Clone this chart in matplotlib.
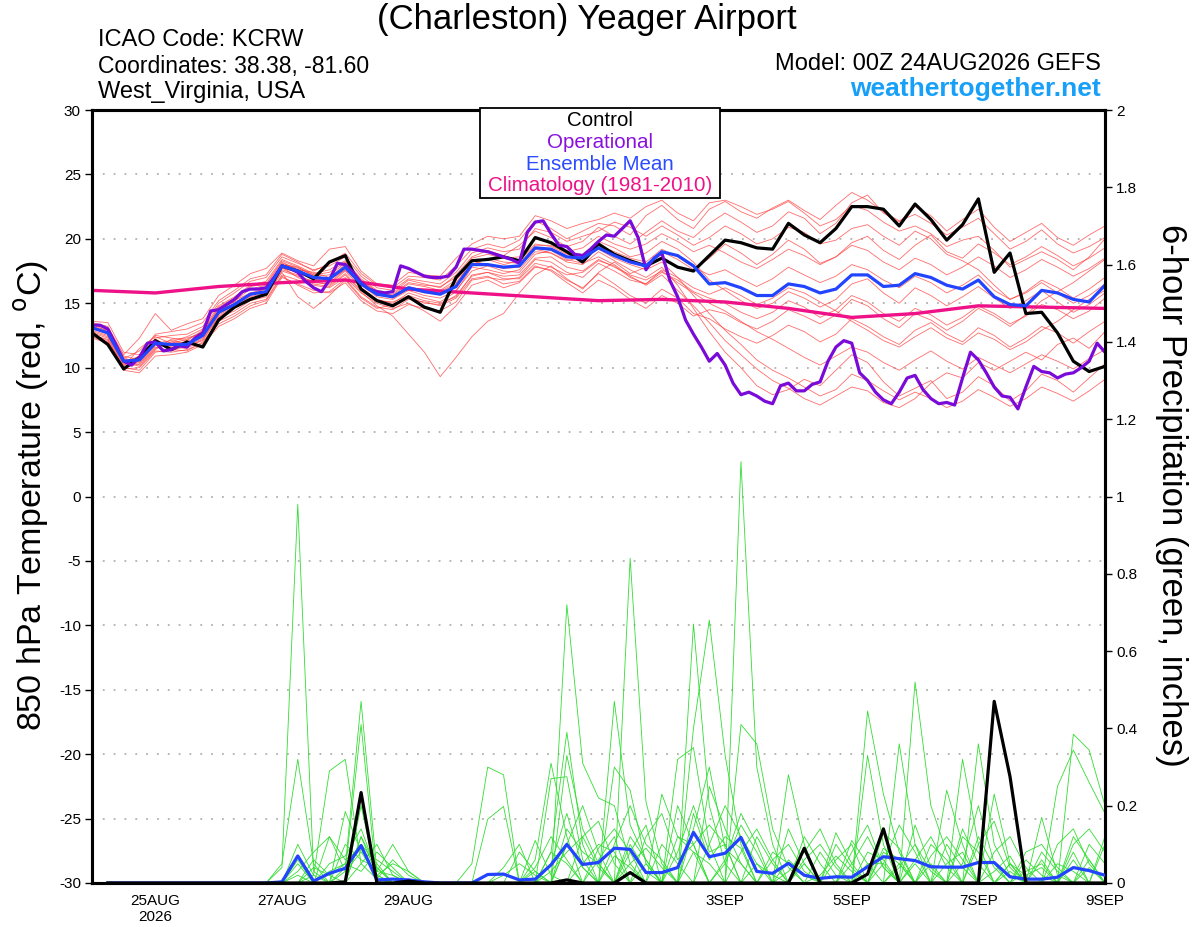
import numpy as np
import matplotlib
matplotlib.use('Agg')
import matplotlib.pyplot as plt
from matplotlib.patches import Rectangle

plt.rcParams['font.family'] = ['Liberation Sans', 'DejaVu Sans']
plt.rcParams['axes.unicode_minus'] = False

# ---- time axes (hours from 00Z 24AUG2026) ----
hours6 = list(range(0, 385, 6))
hours3 = list(range(0, 385, 3))
hours_day = list(range(0, 385, 24))
hours_pcp = list(range(6, 385, 6))

tick_hours = [24, 72, 120, 192, 240, 288, 336, 384]
tick_labels = ['25AUG\n2026', '27AUG', '29AUG', '1SEP', '3SEP', '5SEP', '7SEP', '9SEP']

# ---- 850 hPa temperature (C) ----
control_t = [12.7, 11.8, 9.9, 10.8, 12.1, 11.4, 12.0, 11.6, 13.7, 14.7, 15.3, 15.7, 17.9,
             17.5, 16.9, 18.2, 18.7, 16.1, 15.2, 14.8, 15.5, 14.7, 14.3, 17.0, 18.3, 18.4,
             18.6, 18.3, 20.1, 19.7, 19.0, 18.2, 19.6, 18.8, 18.3, 17.9, 18.5, 17.8, 17.5,
             18.7, 19.9, 19.7, 19.3, 19.2, 21.2, 20.3, 19.7, 20.8, 22.5, 22.5, 22.3, 21.0,
             22.7, 21.5, 19.9, 21.1, 23.1, 17.4, 18.9, 14.2, 14.3, 12.7, 10.5, 9.7, 10.1]

mean_t = [13.1, 12.7, 10.5, 10.6, 11.9, 11.8, 11.8, 12.5, 14.3, 14.9, 15.7, 15.9, 17.9,
          17.5, 17.0, 16.9, 17.8, 16.5, 15.7, 15.5, 16.2, 15.9, 15.7, 16.3, 18.0, 18.0,
          17.8, 17.9, 19.3, 19.2, 18.6, 18.5, 19.3, 18.7, 18.2, 17.9, 19.0, 18.7, 17.9,
          16.5, 16.6, 16.2, 15.6, 15.6, 16.5, 16.3, 15.8, 16.1, 17.2, 17.2, 16.3, 16.4,
          17.3, 17.0, 16.4, 16.1, 16.8, 15.5, 14.9, 14.8, 16.0, 15.8, 15.3, 15.1, 16.4]

oper_t = [13.3, 13.3, 13.0, 11.8, 10.5, 10.2, 10.8, 11.9, 12.0, 11.3, 11.4, 11.7, 11.6,
          12.3, 12.7, 14.4, 14.5, 14.9, 15.3, 15.9, 16.1, 16.1, 16.2, 17.0, 17.9, 17.7,
          17.4, 16.7, 16.2, 15.9, 16.8, 18.1, 18.0, 17.4, 16.6, 16.1, 15.9, 15.8, 15.9,
          17.9, 17.7, 17.4, 17.1, 17.0, 17.0, 17.1, 17.8, 19.2, 19.2, 19.1, 19.0, 18.8,
          18.6, 18.4, 18.1, 20.5, 21.3, 21.4, 20.4, 19.5, 19.4, 18.8, 18.7, 19.2, 19.8,
          20.3, 20.2, 20.8, 21.4, 20.1, 17.6, 18.5, 18.9, 16.8, 15.5, 13.7, 12.6, 11.6,
          10.5, 11.1, 10.2, 8.8, 7.9, 8.1, 7.8, 7.4, 7.2, 8.6, 8.8, 8.2, 8.2, 8.7, 8.9,
          10.5, 11.6, 12.1, 11.9, 9.6, 9.0, 8.1, 7.5, 7.2, 8.1, 9.2, 9.4, 8.3, 7.6, 7.2,
          7.3, 7.1, 9.2, 11.2, 10.6, 9.6, 8.5, 7.8, 7.7, 6.8, 8.5, 10.1, 9.7, 9.6, 9.2,
          9.5, 9.6, 10.0, 10.5, 11.9, 11.2]

climo_t = [16.0, 15.8, 16.3, 16.6, 16.8, 16.1, 15.8, 15.5, 15.2, 15.3, 15.1, 14.6, 13.9,
           14.2, 14.8, 14.7, 14.6]

members_t = [
    [13.4, 13.0, 10.8, 10.2, 11.5, 12.0, 12.4, 13.0, 14.8, 15.5, 16.4, 16.7, 18.4, 17.9, 17.3, 17.6, 18.3, 16.9, 16.0, 15.8, 16.8, 16.5, 16.2, 17.2, 18.6, 19.1, 18.7, 19.5, 20.6, 20.1, 19.4, 19.8, 20.9, 20.2, 19.6, 20.5, 21.4, 20.6, 20.1, 21.2, 22.0, 21.3, 20.5, 21.0, 22.1, 21.6, 20.4, 21.2, 22.8, 23.4, 22.0, 21.3, 22.5, 21.8, 20.6, 21.5, 22.3, 20.9, 19.8, 20.5, 21.2, 20.1, 19.5, 20.3, 21.0],
    [12.9, 12.5, 10.2, 10.8, 12.2, 11.6, 11.5, 12.2, 14.0, 14.6, 15.4, 15.6, 17.6, 17.2, 16.6, 16.5, 17.5, 16.2, 15.3, 15.0, 15.8, 15.4, 15.1, 15.9, 17.8, 17.6, 17.3, 17.6, 19.0, 18.9, 18.2, 18.0, 19.0, 18.3, 17.6, 17.0, 17.8, 16.4, 14.6, 12.8, 11.2, 10.0, 8.6, 7.9, 8.3, 9.1, 8.6, 9.8, 11.0, 10.4, 8.9, 7.8, 8.4, 9.0, 7.6, 8.1, 9.3, 8.6, 7.4, 8.2, 9.5, 9.0, 8.1, 9.2, 10.3],
    [13.0, 12.8, 10.6, 10.4, 11.7, 11.9, 12.0, 12.6, 14.5, 15.2, 15.8, 16.1, 18.1, 17.7, 17.2, 16.8, 17.6, 16.4, 15.5, 15.3, 16.0, 15.6, 15.4, 16.0, 17.5, 17.9, 17.5, 17.4, 18.8, 19.1, 18.4, 18.1, 18.6, 18.0, 17.1, 16.4, 17.2, 16.0, 14.8, 13.5, 12.1, 11.0, 9.9, 9.0, 8.4, 7.6, 7.1, 7.8, 8.5, 8.2, 7.3, 6.9, 7.6, 8.8, 9.6, 9.2, 10.4, 9.8, 10.5, 11.2, 10.6, 11.8, 12.3, 11.5, 12.8],
    [12.5, 12.2, 10.0, 9.8, 11.2, 11.4, 11.3, 12.0, 13.6, 14.2, 15.0, 15.3, 17.2, 16.8, 16.4, 16.2, 17.0, 15.8, 15.0, 14.6, 15.0, 14.4, 13.6, 14.8, 16.4, 16.8, 16.2, 16.6, 17.8, 17.6, 16.8, 16.2, 17.3, 16.5, 15.6, 15.0, 16.1, 15.4, 14.2, 13.8, 13.0, 12.4, 11.9, 12.5, 13.3, 12.8, 12.0, 12.6, 13.8, 13.2, 12.4, 11.8, 12.9, 13.5, 12.6, 12.0, 13.1, 12.5, 11.6, 12.3, 13.2, 12.7, 11.9, 12.8, 13.6],
    [13.2, 12.9, 10.7, 11.3, 12.5, 12.3, 12.1, 12.9, 14.6, 15.1, 15.6, 16.0, 17.8, 17.0, 16.5, 16.3, 17.2, 15.9, 14.8, 14.0, 12.6, 11.2, 9.3, 10.8, 12.4, 13.6, 14.2, 15.8, 17.2, 17.9, 16.9, 16.1, 17.4, 18.2, 17.3, 17.8, 19.0, 18.4, 17.6, 18.5, 19.6, 18.9, 18.0, 18.8, 19.9, 19.2, 18.1, 18.6, 19.7, 20.2, 19.1, 18.4, 19.5, 20.3, 19.0, 18.5, 19.6, 18.9, 18.0, 18.6, 19.4, 18.7, 17.9, 18.5, 19.3],
    [13.6, 13.5, 11.2, 11.0, 12.6, 12.8, 13.0, 13.5, 15.2, 16.0, 16.9, 17.2, 18.8, 18.2, 17.5, 18.1, 18.9, 17.3, 16.4, 16.2, 17.1, 17.0, 16.8, 17.9, 19.2, 19.6, 19.3, 19.9, 21.4, 20.8, 20.0, 20.6, 21.2, 21.0, 20.3, 21.8, 22.6, 21.5, 20.8, 22.3, 22.9, 22.1, 21.6, 22.4, 23.0, 22.2, 21.5, 22.6, 23.6, 23.0, 22.1, 21.4, 21.9, 21.2, 20.3, 20.9, 21.6, 20.4, 19.2, 19.8, 20.7, 19.6, 18.9, 19.4, 20.1],
    [12.8, 12.4, 10.3, 10.5, 11.8, 11.7, 11.6, 12.3, 14.1, 14.7, 15.5, 15.8, 17.7, 17.4, 16.9, 16.6, 17.6, 16.5, 15.8, 15.6, 16.5, 16.3, 16.0, 16.8, 18.2, 18.4, 18.0, 18.3, 19.6, 19.4, 18.8, 18.7, 19.5, 19.0, 18.5, 18.2, 19.2, 18.6, 17.8, 17.2, 17.6, 16.9, 16.3, 16.9, 17.8, 17.2, 16.6, 17.1, 18.0, 17.6, 16.8, 16.2, 17.1, 16.6, 15.8, 16.4, 17.2, 16.0, 15.3, 15.9, 16.8, 16.2, 15.4, 16.1, 17.0],
    [13.1, 12.6, 10.4, 10.9, 12.0, 11.5, 11.9, 12.4, 14.2, 14.8, 15.6, 16.2, 18.0, 17.8, 17.1, 17.2, 18.1, 16.7, 15.9, 15.4, 16.1, 15.8, 15.8, 16.5, 18.3, 18.0, 17.7, 17.8, 19.2, 18.9, 18.3, 18.6, 19.8, 19.3, 18.6, 18.9, 19.8, 19.2, 18.2, 16.8, 16.0, 15.2, 14.6, 15.0, 15.9, 15.4, 14.7, 15.3, 16.5, 16.9, 15.8, 15.0, 16.2, 15.6, 14.8, 15.5, 16.3, 15.4, 14.6, 15.2, 16.0, 15.1, 14.3, 14.9, 15.8],
    [12.3, 11.9, 9.8, 9.6, 10.9, 11.0, 11.2, 11.8, 13.2, 13.8, 14.6, 15.0, 17.0, 16.5, 16.0, 15.8, 16.6, 15.2, 14.4, 14.2, 14.9, 14.6, 14.4, 15.1, 16.8, 17.0, 16.8, 17.0, 18.4, 18.2, 17.4, 17.0, 18.1, 17.5, 16.8, 16.5, 17.6, 17.0, 16.2, 15.7, 16.2, 15.6, 14.9, 15.4, 16.2, 15.8, 15.1, 14.4, 13.6, 12.9, 12.1, 11.6, 12.4, 13.1, 12.3, 11.8, 12.7, 12.2, 11.4, 12.0, 12.9, 13.6, 14.5, 15.3, 16.0],
    [13.3, 13.1, 10.9, 10.6, 12.3, 12.5, 12.6, 13.2, 15.0, 15.8, 16.7, 17.0, 18.6, 18.1, 17.6, 17.9, 18.6, 17.1, 16.2, 16.0, 16.9, 16.7, 16.5, 17.4, 18.9, 19.3, 19.0, 19.2, 20.8, 20.5, 19.8, 20.2, 20.6, 21.3, 20.9, 20.2, 21.0, 20.3, 19.5, 20.1, 21.0, 20.4, 19.6, 20.0, 20.9, 20.5, 19.6, 19.9, 20.8, 21.1, 20.2, 19.5, 20.6, 20.0, 18.8, 18.3, 17.6, 16.4, 15.3, 15.8, 16.6, 15.8, 15.0, 15.6, 16.5],
    [12.7, 12.3, 10.1, 11.5, 12.4, 11.9, 12.2, 12.8, 14.4, 15.0, 15.8, 15.7, 17.5, 17.1, 16.7, 16.4, 17.3, 16.0, 15.2, 15.1, 15.6, 15.2, 15.0, 15.5, 17.2, 17.4, 17.1, 17.2, 18.5, 18.6, 17.8, 17.5, 18.4, 17.8, 17.2, 16.8, 17.5, 16.6, 15.8, 15.0, 14.4, 13.6, 12.8, 12.2, 11.5, 10.8, 10.2, 10.9, 11.6, 11.2, 10.4, 9.8, 10.6, 11.3, 10.5, 9.9, 10.8, 10.2, 9.6, 10.3, 11.0, 10.5, 9.9, 10.7, 11.4],
    [13.0, 12.7, 10.6, 10.7, 11.9, 12.1, 11.9, 12.6, 14.3, 15.2, 16.1, 16.4, 18.2, 17.6, 17.4, 17.0, 18.0, 16.6, 15.6, 15.7, 16.6, 16.4, 16.3, 17.0, 18.5, 18.8, 18.5, 18.6, 20.0, 19.7, 19.0, 19.3, 20.2, 19.6, 19.2, 19.6, 20.4, 19.8, 19.0, 19.5, 18.9, 18.2, 17.7, 18.4, 19.2, 18.7, 18.0, 18.6, 19.5, 19.1, 18.2, 17.6, 18.5, 18.0, 17.2, 17.8, 18.6, 17.9, 17.0, 17.6, 18.4, 17.8, 17.1, 17.7, 18.5],
    [12.6, 12.1, 10.0, 10.3, 11.6, 11.3, 11.7, 12.1, 13.9, 14.4, 15.2, 15.5, 17.4, 15.5, 14.6, 15.6, 16.8, 15.4, 14.6, 14.9, 15.5, 15.0, 14.9, 15.6, 17.1, 17.4, 16.9, 16.9, 18.1, 17.8, 17.2, 17.4, 18.3, 17.9, 17.0, 16.5, 17.4, 16.8, 15.9, 15.4, 15.0, 14.3, 13.8, 14.3, 15.2, 14.7, 13.9, 14.5, 15.6, 15.1, 14.2, 13.6, 14.6, 14.1, 13.3, 13.9, 14.8, 14.2, 13.4, 14.0, 14.9, 14.5, 13.8, 14.4, 15.4],
    [13.4, 12.8, 10.5, 10.1, 11.4, 12.2, 12.3, 12.7, 14.7, 15.4, 16.3, 16.5, 18.3, 17.8, 17.2, 17.4, 18.2, 16.8, 15.9, 15.5, 16.3, 16.0, 15.9, 16.6, 18.0, 18.5, 18.2, 18.1, 19.5, 19.5, 18.9, 18.8, 19.2, 18.5, 18.0, 17.6, 18.2, 17.0, 15.6, 14.2, 12.9, 11.8, 10.6, 9.8, 9.2, 8.5, 7.8, 8.3, 9.5, 9.0, 8.2, 7.5, 8.1, 7.6, 6.9, 7.4, 8.3, 7.7, 7.0, 7.6, 8.5, 8.0, 7.4, 8.2, 9.1],
    [13.5, 13.2, 11.0, 12.3, 14.2, 12.9, 13.4, 13.8, 15.6, 16.4, 17.3, 17.7, 18.9, 18.3, 17.9, 19.2, 19.4, 17.5, 16.5, 16.4, 17.4, 17.2, 17.1, 18.5, 19.6, 20.2, 20.0, 20.2, 21.8, 21.4, 20.8, 21.2, 21.5, 22.0, 21.6, 22.5, 23.0, 22.0, 21.4, 22.8, 23.0, 22.5, 21.9, 22.3, 22.9, 22.0, 21.0, 21.5, 22.6, 22.2, 21.3, 20.6, 21.0, 20.4, 19.4, 19.9, 20.2, 19.1, 17.8, 18.4, 19.0, 18.4, 17.6, 18.6, 20.0],
    [12.4, 12.0, 9.9, 10.0, 11.3, 11.2, 11.4, 11.9, 13.4, 14.0, 14.8, 15.2, 17.1, 16.4, 15.8, 15.9, 16.9, 15.5, 14.7, 14.5, 15.3, 15.1, 14.8, 15.4, 16.9, 17.1, 16.5, 16.7, 17.9, 17.5, 16.6, 15.8, 16.8, 16.2, 15.3, 14.6, 15.6, 15.0, 14.0, 14.5, 14.2, 13.5, 13.0, 13.6, 14.5, 14.0, 13.4, 14.1, 15.3, 14.8, 13.8, 13.1, 14.2, 13.7, 12.9, 13.6, 14.6, 14.0, 13.2, 14.1, 15.2, 15.9, 16.6, 17.5, 18.4],
]

# ---- 6-hour precipitation (inches), steps 6h..384h ----
z8 = [0, 0, 0, 0, 0, 0, 0, 0]
members_p = [
    z8 + [0, 0, 0, .04, .98, .03, 0, 0] + [.12, .02, 0, 0, 0, 0, 0, 0] + [0, 0, 0, .06, .31, .12, 0, 0]
       + [0, .08, .15, 0, 0, .67, .2, .05] + [0, 0, 0, .28, .1, 0, 0, 0] + [.05, 0, 0, .52, .2, .08, 0, 0] + [0, .03, 0, 0, 0, .06, 0, 0],
    z8 + [0, 0, 0, .05, .32, .05, 0, .04] + [.47, .03, .1, .03, 0, 0, 0, 0] + [0, 0, 0, 0, 0, .72, .31, .22]
       + [.2, .05, 0, 0, .12, .1, 0, 0] + [1.09, .3, .1, 0, 0, 0, .13, .05] + [0, 0, .05, 0, 0, 0, .32, .1] + [0, 0, 0, .17, .02, 0, 0, 0],
    z8 + [0, 0, 0, 0, .1, .02, .29, .32] + [.05, .01, 0, 0, 0, 0, 0, 0] + [0, .04, .1, 0, .08, .39, .1, 0]
       + [.47, .15, .06, 0, 0, .4, .68, .33] + [.1, 0, 0, 0, 0, 0, 0, 0] + [.445, .23, .08, 0, 0, 0, 0, 0] + [.23, .05, 0, 0, 0, .385, .344, .2],
    z8 + [0, 0, 0, 0, .05, 0, .12, .03] + [.41, 0, 0, 0, 0, 0, 0, .05] + [.3, .28, 0, 0, 0, .33, .14, .05]
       + [0, .84, .21, .05, 0, 0, 0, 0] + [.41, .36, .14, .04, 0, 0, 0, 0] + [0, 0, .36, .1, 0, 0, 0, .36] + [.1, .02, 0, 0, 0, 0, 0, 0],
    z8 + [0, 0, 0, 0, 0, 0, 0, .185] + [.08, .02, 0, 0, 0, 0, 0, 0] + [.165, .198, 0, 0, .27, .275, .06, 0]
       + [.3, .24, .05, 0, .32, .35, .1, 0] + [0, .05, .02, 0, 0, 0, 0, 0] + [.33, .1, 0, 0, 0, .24, .1, 0] + [0, 0, 0, 0, .25, .344, .26, .18],
    z8 + [0, 0, 0, 0, .03, .08, .12, .06] + [.09, .02, .05, .03, 0, 0, 0, 0] + [0, 0, 0, .11, .02, 0, .05, .1]
       + [.08, 0, 0, .23, .12, .08, 0, .05] + [.15, .08, 0, 0, .12, .05, 0, .11] + [.05, .05, 0, .15, .04, 0, .14, .05] + [0, 0, .03, .05, 0, 0, 0, 0],
    z8 + [0, 0, 0, 0, 0, .02, 0, .1] + [.06, .04, 0, 0, 0, 0, 0, 0] + [0, 0, .08, .03, 0, .14, .08, .05]
       + [0, .12, .06, 0, 0, .18, .06, .12] + [.09, 0, .06, .1, .03, 0, .06, .1] + [0, .13, .09, 0, .1, .06, 0, 0] + [.08, .12, .04, 0, 0, 0, .1, .05],
    z8 + [0, 0, 0, 0, .06, 0, .05, .07] + [.14, .03, .02, 0, 0, 0, 0, 0] + [0, 0, 0, 0, .05, .18, .04, 0]
       + [.1, .2, .1, .06, 0, 0, .25, .14] + [.05, 0, 0, .03, .08, .14, .05, 0] + [0, .05, .15, .08, 0, 0, .05, .2] + [.05, 0, 0, 0, .1, .14, .05, 0],
    z8 + [0, 0, 0, 0, 0, .04, .02, .05] + [.1, .05, 0, .01, 0, 0, 0, 0] + [0, .02, .05, .02, 0, 0, .12, .16]
       + [.05, 0, .12, .18, .06, .1, .15, .1] + [0, .12, .05, 0, 0, .08, .02, 0] + [.08, .06, 0, 0, .07, .12, .06, 0] + [0, .05, .02, .04, 0, .08, 0, .12],
    z8 + [0, 0, 0, 0, .02, 0, 0, 0] + [.2, .01, .06, .02, 0, 0, 0, 0] + [0, 0, 0, .04, .12, .06, 0, .09]
       + [.14, .08, 0, 0, .2, .1, 0, .06] + [.18, .1, 0, .14, .05, 0, 0, .05] + [.12, .04, 0, .06, .12, .04, 0, .1] + [.16, .04, 0, .08, .03, 0, .06, 0],
    z8 + [0, 0, 0, 0, 0, 0, 0, .03] + [.08, .06, .03, 0, 0, 0, 0, 0] + [0, 0, 0, 0, .03, .08, .12, .04]
       + [0, .05, .09, .04, 0, .14, .3, .09] + [.05, 0, .08, .05, 0, .02, .07, .03] + [0, 0, .04, .1, .03, 0, .12, .08] + [0, 0, .06, .02, 0, .1, .14, .08],
    z8 + [0, 0, 0, 0, 0, 0, .03, .05] + [.03, .08, .04, 0, 0, 0, 0, 0] + [0, 0, 0, 0, 0, .1, .04, 0]
       + [.07, .04, 0, .1, .05, 0, .1, .2] + [.12, .05, 0, 0, .06, .1, .04, 0] + [0, .08, .05, 0, 0, .05, .08, 0] + [.03, .07, 0, 0, .05, .03, 0, .1],
    z8 + z8 + [.05, .1, .02, 0, 0, 0, 0, 0] + [0, 0, 0, 0, .08, .05, 0, .06]
       + [.12, 0, .05, 0, 0, .08, .05, 0] + [.08, .14, .06, 0, .05, 0, .1, .04] + [0, .09, .06, 0, .05, 0, 0, .12] + [.04, 0, .08, .1, .04, 0, .04, 0],
    z8 + [0, 0, 0, 0, 0, .06, .02, 0] + [.12, .04, 0, 0, 0, 0, 0, 0] + [0, 0, 0, .03, 0, .1, .2, .08]
       + [0, .1, .03, 0, .08, .2, .08, .1] + [0, 0, 0, .06, .02, 0, 0, .08] + [.15, .04, 0, .05, 0, .1, .04, 0] + [0, .05, 0, .06, 0, .12, .06, 0],
]

control_p = z8 + [0, 0, 0, 0, 0, 0, 0, .003] + [.234, 0, 0, .005, 0, 0, 0, 0] + [0, 0, 0, 0, 0, .008, 0, 0] \
    + [0, .027, 0, 0, 0, 0, 0, 0] + [0, 0, 0, 0, .09, 0, 0, 0] + [.023, .14, 0, 0, 0, 0, 0, 0] + [.47, .275, 0, 0, 0, 0, 0, 0]

mean_p = z8 + [0, 0, 0, .003, .07, .005, .025, .038] + [.097, .008, .01, .008, .003, 0, 0, 0] \
    + [.022, .023, .008, .01, .047, .1, .048, .053] + [.09, .087, .027, .027, .04, .131, .068, .077] \
    + [.118, .03, .025, .051, .02, .012, .016, .015] + [.042, .068, .063, .058, .042, .041, .041, .053] \
    + [.053, .016, .01, .01, .015, .04, .032, .02]

# ---- figure ----
fig = plt.figure(figsize=(12, 9.27), dpi=100)
ax = fig.add_axes([92 / 1200, 44 / 927, 1013 / 1200, 773 / 927])
ax2 = ax.twinx()

for m in members_t:
    ax.plot(hours6, m, color='#ff3b3b', lw=0.6, alpha=0.75, zorder=2)
ax.plot(hours_day, climo_t, color='#ee1188', lw=2.4, zorder=3)
ax.plot(hours6, control_t, color='black', lw=2.3, zorder=4)
ax.plot(hours3, oper_t, color='#7a0ad8', lw=2.3, zorder=5)
ax.plot(hours6, mean_t, color='#2244ff', lw=2.3, zorder=6)

for m in members_p:
    ax2.plot(hours_pcp, m, color='#33dd33', lw=0.6, zorder=2)
ax2.plot(hours_pcp, mean_p, color='#2244ff', lw=2.3, zorder=3)
ax2.plot(hours_pcp, control_p, color='black', lw=2.3, zorder=4)

ax.set_xlim(0, 384)
ax.set_ylim(-30, 30)
ax2.set_ylim(0, 2)
ax.set_yticks(range(-30, 31, 5))
ax2.set_yticks(np.arange(0, 2.01, 0.2))
ax2.set_yticklabels(['0', '0.2', '0.4', '0.6', '0.8', '1', '1.2', '1.4', '1.6', '1.8', '2'])
ax.set_xticks(tick_hours)
ax.set_xticklabels(tick_labels)

for g in range(-25, 30, 5):
    ax.axhline(g, color='#b0b0b0', lw=1.3, ls=(0, (1, 5)), zorder=1)

for a in (ax, ax2):
    for s in a.spines.values():
        s.set_linewidth(2.2)
ax.tick_params(axis='y', direction='out', length=5, width=1, labelsize=11, pad=3)
ax2.tick_params(axis='y', direction='out', length=5, width=1, labelsize=11, pad=3)
ax.tick_params(axis='x', length=0, labelsize=11, pad=8)

ax.set_ylabel('850 hPa Temperature (red, $^{\\mathrm{o}}$C)', fontsize=24.5, va='center')
ax.yaxis.set_label_coords(-0.060, 0.502)
ax2.set_ylabel('6-hour Precipitation (green, inches)', fontsize=25, rotation=-90, va='center')
ax2.yaxis.set_label_coords(1.066, 0.502)

# ---- header text ----
fig.text(587 / 1200, 1 - 19 / 927, '(Charleston) Yeager Airport', fontsize=25, ha='center', va='center')
fig.text(98 / 1200, 1 - 40 / 927, 'ICAO Code: KCRW', fontsize=17, ha='left', va='center')
fig.text(98 / 1200, 1 - 66 / 927, 'Coordinates: 38.38, -81.60', fontsize=16.5, ha='left', va='center')
fig.text(98 / 1200, 1 - 92 / 927, 'West_Virginia, USA', fontsize=17, ha='left', va='center')
fig.text(1101 / 1200, 1 - 64 / 927, 'Model: 00Z 24AUG2026 GEFS', fontsize=17, ha='right', va='center')
fig.text(1101 / 1200, 1 - 89 / 927, 'weathertogether.net', fontsize=19, fontweight='bold',
         color='#18a0f8', ha='right', va='center')

# ---- legend box ----
fig.add_artist(Rectangle((480 / 1200, 1 - 198 / 927), 240 / 1200, 90 / 927,
                         transform=fig.transFigure, facecolor='white', edgecolor='black', lw=1.3, zorder=10))
leg_items = [('Control', 'black'), ('Operational', '#8a10dd'),
             ('Ensemble Mean', '#2a4bff'), ('Climatology (1981-2010)', '#ee1188')]
for k, (txt, col) in enumerate(leg_items):
    fig.text(600 / 1200, 1 - (121 + 21.5 * k) / 927, txt, color=col, fontsize=14.8,
             ha='center', va='center', zorder=11)

fig.savefig('out.png', dpi=100)
